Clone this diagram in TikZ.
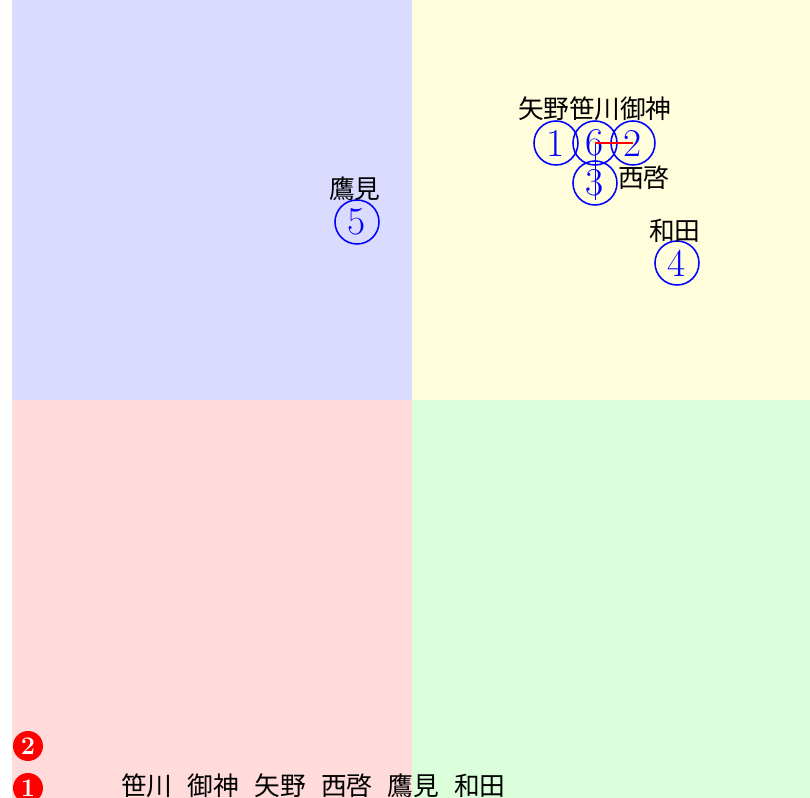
\documentclass[tikz,border=0pt]{standalone}
\usepackage{fontspec}
\newfontfamily\cjk{Noto Sans CJK JP}
\def\half{10}
\def\gap{1.665}

\begin{document}
\begin{tikzpicture}
			\tikzset{member/.style={circle, draw=blue, text=blue, line width=1.1pt, minimum size=1.1cm, inner sep=0pt, font=\fontsize{28}{30}\selectfont},
				surname/.style={inner sep=0pt, font=\cjk\fontsize{18.3}{20}\selectfont},
				badge/.style={circle, fill=red, text=white, minimum size=.75cm, inner sep=0pt, font=\bfseries\fontsize{18}{20}\selectfont}}
			\useasboundingbox (-10.3,-9.95) rectangle (9.95,10);
			% quadrants
			\fill[blue!14] (-\half,0) rectangle (0,\half);
			\fill[yellow!14] (0,0) rectangle (\half,\half);
			\fill[red!14] (-\half,-\half) rectangle (0,0);
			\fill[green!14] (0,-\half) rectangle (\half,0);
			\node[member](1) at (3.6,6.425){1};
			\node[member](6) at (4.575,6.425){6};
			\node[member](2) at (5.525,6.425){2};
			\node[member](3) at (4.575,5.425){3};
			\node[member](4) at (6.625,3.425){4};
			\node[member](5) at (-1.375,4.45){5};
			\node[surname](yano) at (3.3,7.275){矢野};
			\node[surname](sasa) at (4.575,7.275){笹川};
			\node[surname](mika) at (5.85,7.275){御神};
			\node[surname](sai) at (5.8,5.55){西啓};
			\node[surname](wada) at (6.575,4.225){和田};
			\node[surname](taka) at (-1.425,5.275){鷹見};
			\coordinate(end) at (4.575,5);
			\draw[blue, line width=.6pt, xshift=-.03cm](6.center)--(end);
			\draw[blue, line width=.6pt, xshift=.03cm](6.center)--(end);
			\draw[red, line width=1.6pt](6.center)--(2.center);
			\node[badge](b2) at (-9.6,-8.65){2};
			\node[badge](b1) at (-9.6,-9.7){1};
			\foreach \n [count=\i from 0] in {笹川,御神,矢野,西啓,鷹見,和田}
				\node[surname](row\i) at (-6.625+\i*\gap,-9.65){\n};
		\end{tikzpicture}
\end{document}
